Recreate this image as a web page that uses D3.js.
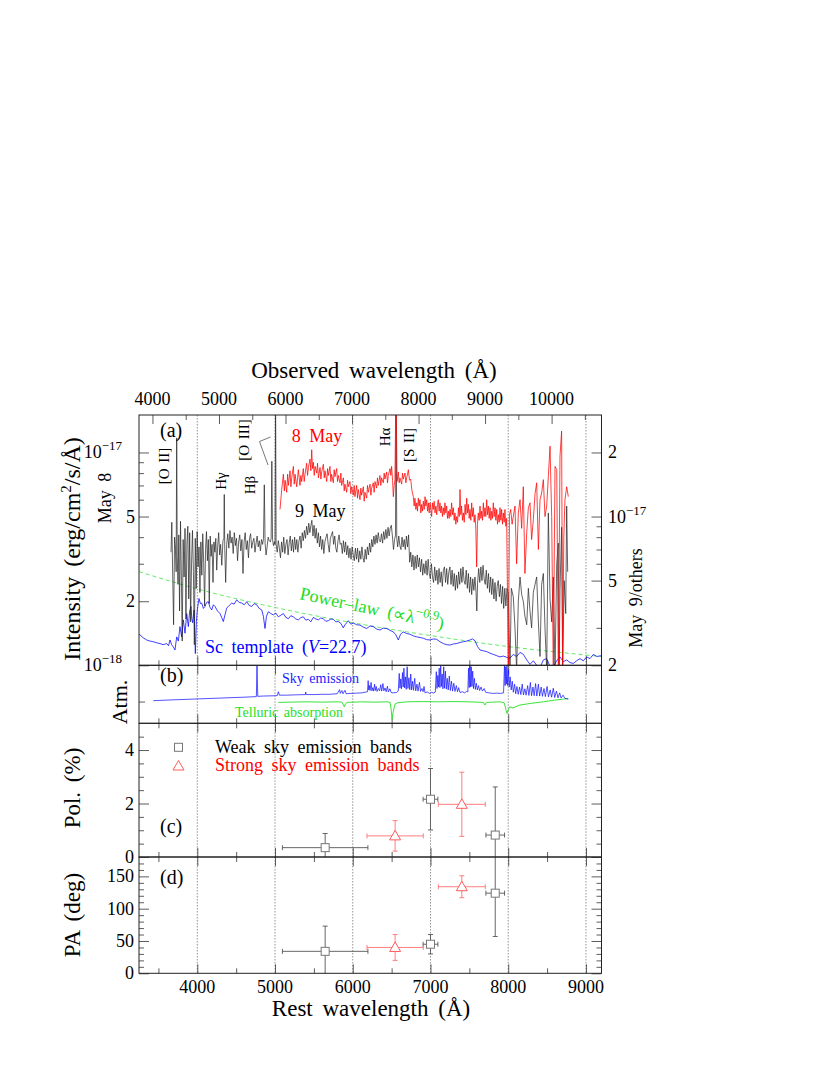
<!DOCTYPE html>
<html><head><meta charset="utf-8">
<script src="https://cdn.jsdelivr.net/npm/d3@7"></script>
<style>
body{margin:0;background:#fff}
svg{display:block}
text{font-family:"Liberation Serif","Times New Roman",serif}
</style>
</head><body>
<svg id="chart" width="830" height="1075"></svg>
<script>
// ---------------- DATA ----------------
const redshift = 0.1685;
const restDomain = [3250, 9200];
const restMajorTicks = [4000, 5000, 6000, 7000, 8000, 9000];
const restMinorTicks = [3500, 4500, 5500, 6500, 7500, 8500];
const obsMajorTicks = [4000, 5000, 6000, 7000, 8000, 9000, 10000];
const obsMinorTicks = [4500, 5500, 6500, 7500, 8500, 9500, 10500];

// panel (a) flux in units of 1e-18 erg/cm2/s/A
// May 8 on left axis, May 9 & others on right axis
const leftMajor = [1, 2, 5, 10];
const leftMinor = [3, 4, 6, 7, 8, 9];
const rightMajor = [2, 5, 10, 20];
const rightMinor = [3, 4, 6, 7, 8, 9];

const may8 = [[5064,5.4],[5086,6.7],[5107,7.9],[5120,6.6],[5130,7.4],[5150,6.5],[5162,7.9],[5172,7.0],[5193,8.2],[5204,6.9],[5215,7.6],[5236,8.6],[5247,7.1],[5258,7.9],[5279,6.9],[5290,7.6],[5300,8.3],[5321,7.0],[5332,7.8],[5343,7.3],[5364,8.4],[5375,7.3],[5386,7.9],[5407,8.9],[5418,7.8],[5430,8.5],[5450,9.3],[5461,8.2],[5472,10.3],[5482,8.4],[5493,9.0],[5504,7.8],[5515,8.6],[5536,8.0],[5547,8.9],[5558,7.6],[5579,8.5],[5590,7.5],[5600,8.1],[5622,8.8],[5633,7.6],[5643,8.2],[5665,7.3],[5676,8.4],[5686,7.8],[5707,8.6],[5718,7.3],[5728,7.9],[5750,7.2],[5761,8.3],[5771,7.7],[5793,8.4],[5804,7.3],[5814,7.8],[5836,7.2],[5847,8.0],[5857,7.0],[5879,7.6],[5890,6.6],[5900,7.1],[5922,6.5],[5933,7.4],[5943,6.9],[5964,7.3],[5975,6.4],[5986,6.9],[6007,6.3],[6018,7.0],[6028,6.2],[6050,7.0],[6061,6.1],[6071,6.7],[6093,6.0],[6104,6.8],[6114,6.3],[6136,6.9],[6147,5.9],[6157,6.5],[6179,6.1],[6190,7.0],[6200,6.5],[6222,7.1],[6233,6.3],[6243,6.8],[6264,7.2],[6275,6.5],[6286,7.3],[6307,6.8],[6318,7.6],[6328,7.0],[6350,7.8],[6361,7.0],[6371,7.6],[6393,7.2],[6404,8.0],[6414,7.5],[6436,8.1],[6447,7.2],[6457,7.8],[6479,8.4],[6490,7.8],[6500,8.6],[6512,7.4],[6522,6.2],[6533,7.0],[6543,7.45],[6556,22],[6570,7.3],[6586,8.1],[6597,7.2],[6607,7.6],[6629,7.1],[6640,8.0],[6650,7.5],[6672,8.0],[6683,7.2],[6693,7.6],[6705,7.9],[6715,8.3],[6730,7.4],[6745,7.5],[6762,6.6],[6779,6.2],[6790,5.6],[6800,6.1],[6812,5.4],[6823,5.8],[6833,5.3],[6843,6.1],[6854,5.6],[6865,6.0],[6876,5.2],[6886,5.7],[6897,5.3],[6908,5.9],[6919,5.4],[6930,6.2],[6940,5.6],[6951,6.0],[6962,5.3],[6972,5.8],[6983,5.2],[6994,5.8],[7005,5.4],[7015,5.0],[7025,5.8],[7036,5.4],[7047,5.9],[7058,5.2],[7069,5.6],[7080,5.1],[7090,5.7],[7100,6.0],[7111,5.3],[7122,5.8],[7133,5.2],[7143,5.6],[7154,5.0],[7165,5.5],[7176,5.1],[7186,5.8],[7197,5.2],[7208,5.6],[7219,4.9],[7230,5.3],[7240,4.9],[7251,5.4],[7262,5.0],[7272,5.8],[7283,5.1],[7294,5.5],[7305,4.8],[7315,5.2],[7326,4.6],[7337,5.0],[7348,4.7],[7360,5.5],[7370,5.0],[7380,6.7],[7390,5.1],[7400,5.6],[7411,4.8],[7423,5.2],[7434,4.7],[7445,5.7],[7456,5.1],[7466,6.1],[7477,5.2],[7487,5.7],[7498,4.9],[7508,5.4],[7519,4.8],[7530,5.8],[7540,5.0],[7551,5.5],[7562,4.7],[7573,5.1],[7583,4.4],[7594,2.9],[7604,4.6],[7615,5.2],[7626,4.8],[7637,5.6],[7648,4.9],[7658,5.3],[7669,4.8],[7680,5.8],[7690,5.0],[7701,5.5],[7712,5.0],[7723,6.0],[7734,5.1],[7745,5.6],[7755,4.9],[7766,5.5],[7777,4.8],[7787,5.3],[7798,4.9],[7808,5.8],[7819,5.0],[7830,5.5],[7841,4.8],[7852,5.4],[7862,4.6],[7873,5.1],[7884,4.7],[7894,5.5],[7905,4.8],[7915,5.4],[7926,4.6],[7937,5.2],[7948,4.7],[7958,5.4],[7969,4.5],[7980,4.9],[8001,0.9],[8016,5.1],[8032,5.4],[8050,4.6],[8065,5.0],[8087,5.6],[8108,3.0],[8130,5.2],[8152,6.0],[8173,4.4],[8194,6.9],[8215,2.7],[8238,4.2],[8259,5.5],[8280,5.8],[8301,3.9],[8323,4.83],[8345,6.4],[8366,7.2],[8388,3.5],[8409,6.0],[8430,6.45],[8452,7.45],[8473,5.0],[8495,5.6],[8516,7.7],[8538,10.7],[8559,5.0],[8580,0.9],[8602,8.6],[8624,8.3],[8645,0.9],[8666,9.6],[8687,12.6],[8700,1.0],[8715,4.0],[8730,6.0],[8752,6.9],[8773,6.2]];

const may9 = [[3662,6.8],[3672,9.4],[3684,5.2],[3695,3.1],[3708,8.0],[3720,7.0],[3728,5.5],[3735,23.4],[3742,6.5],[3752,4.8],[3762,8.2],[3772,3.6],[3784,9.5],[3796,5.0],[3806,2.6],[3818,7.8],[3830,5.2],[3842,8.8],[3854,3.3],[3866,7.4],[3878,9.0],[3890,4.1],[3902,8.4],[3914,3.2],[3926,6.0],[3938,8.6],[3950,5.5],[3962,2.5],[3974,7.9],[3986,4.6],[3998,8.5],[4010,5.8],[4022,7.2],[4034,4.4],[4046,7.6],[4058,5.3],[4070,8.3],[4082,6.1],[4094,3.8],[4106,7.0],[4118,8.5],[4130,6.2],[4142,7.8],[4154,3.9],[4166,8.1],[4178,6.5],[4190,7.4],[4202,4.9],[4214,7.6],[4226,6.8],[4238,7.9],[4250,5.6],[4262,7.2],[4275,8.4],[4288,6.6],[4300,7.4],[4315,5.9],[4330,7.7],[4342,7.9],[4347,12.7],[4353,7.2],[4365,4.9],[4378,7.4],[4392,8.3],[4406,7.1],[4420,8.6],[4434,7.5],[4448,8.0],[4462,6.7],[4476,8.4],[4490,7.3],[4504,7.9],[4518,6.2],[4532,7.6],[4546,8.2],[4560,6.9],[4574,7.8],[4588,5.4],[4602,7.6],[4616,8.4],[4630,7.0],[4644,7.7],[4658,6.4],[4672,7.9],[4686,8.3],[4700,7.1],[4714,7.6],[4728,7.9],[4742,6.8],[4756,7.5],[4770,8.1],[4784,7.2],[4798,7.7],[4812,6.9],[4826,7.8],[4840,7.4],[4852,7.9],[4862,14.1],[4872,7.5],[4885,6.6],[4898,7.2],[4912,8.0],[4925,7.7],[4940,7.6],[4950,7.9],[4959,18.2],[4968,7.8],[4980,7.3],[4992,7.6],[5000,7.4],[5007,40],[5014,7.4],[5028,6.8],[5042,7.7],[5056,7.1],[5070,6.4],[5084,7.6],[5098,6.8],[5112,8.0],[5126,6.7],[5140,7.4],[5154,7.8],[5168,6.6],[5182,7.5],[5196,8.1],[5210,6.9],[5224,7.8],[5238,6.8],[5252,8.0],[5266,7.0],[5280,7.8],[5294,6.8],[5308,7.7],[5322,8.1],[5336,7.1],[5350,8.4],[5364,7.7],[5378,8.6],[5392,7.9],[5406,9.0],[5420,8.2],[5434,9.3],[5448,8.4],[5462,9.1],[5474,9.6],[5488,8.1],[5502,9.1],[5516,7.9],[5530,8.8],[5544,7.5],[5558,8.4],[5572,7.2],[5586,8.1],[5600,7.0],[5614,7.8],[5628,6.7],[5642,7.6],[5656,8.0],[5670,8.3],[5684,7.4],[5698,6.8],[5712,7.9],[5726,8.2],[5740,8.5],[5754,7.4],[5768,8.1],[5782,7.1],[5796,6.8],[5810,7.7],[5824,8.2],[5838,7.4],[5852,7.5],[5866,6.7],[5880,7.7],[5894,6.8],[5908,7.6],[5922,6.6],[5936,7.3],[5950,6.4],[5964,7.1],[5978,6.3],[5992,7.2],[6006,6.6],[6020,6.2],[6034,7.1],[6048,6.3],[6062,7.1],[6076,6.1],[6090,6.9],[6104,6.3],[6118,7.2],[6132,6.4],[6146,6.1],[6160,7.0],[6174,6.3],[6188,7.2],[6202,6.6],[6216,7.5],[6230,6.8],[6244,7.8],[6258,7.2],[6272,8.1],[6286,7.4],[6300,8.2],[6314,7.5],[6328,8.4],[6342,7.7],[6356,7.6],[6370,8.3],[6384,7.5],[6398,8.5],[6412,7.8],[6426,8.7],[6440,7.9],[6454,8.9],[6468,8.1],[6482,8.8],[6496,9.1],[6510,8.1],[6524,7.0],[6538,7.8],[6550,8.2],[6557,45],[6566,7.9],[6578,7.2],[6592,8.1],[6606,7.3],[6620,7.0],[6634,8.0],[6648,7.2],[6662,7.8],[6676,7.0],[6690,8.1],[6704,7.2],[6718,8.2],[6732,6.1],[6746,6.8],[6760,5.8],[6774,6.6],[6788,5.6],[6802,6.5],[6816,5.7],[6830,6.6],[6844,5.8],[6858,6.4],[6872,5.5],[6886,6.3],[6900,5.3],[6914,6.0],[6928,5.4],[6942,6.2],[6956,5.3],[6970,6.3],[6984,5.4],[6998,5.1],[7012,6.0],[7026,5.2],[7040,4.9],[7054,5.8],[7068,5.0],[7082,5.6],[7096,4.8],[7110,5.7],[7124,4.9],[7138,5.5],[7152,4.7],[7166,5.6],[7180,5.8],[7194,4.9],[7208,5.7],[7222,4.8],[7236,5.5],[7250,5.8],[7264,4.8],[7278,5.6],[7292,4.7],[7306,5.4],[7320,4.5],[7334,5.3],[7348,4.6],[7362,5.5],[7376,4.8],[7390,5.7],[7404,4.9],[7418,5.8],[7432,5.0],[7446,4.8],[7460,5.6],[7474,4.6],[7488,5.4],[7502,4.4],[7516,5.2],[7530,4.3],[7544,5.1],[7558,4.5],[7572,5.2],[7586,4.4],[7596,3.6],[7606,4.9],[7620,5.7],[7634,4.9],[7648,5.8],[7662,5.0],[7676,5.9],[7690,5.1],[7704,4.8],[7718,5.6],[7732,4.6],[7746,5.4],[7760,4.4],[7774,5.2],[7788,4.3],[7802,5.1],[7816,4.1],[7830,4.9],[7844,4.0],[7858,4.7],[7872,5.0],[7886,4.2],[7900,4.8],[7914,3.9],[7928,4.7],[7942,3.7],[7956,4.6],[7970,3.8],[7984,4.6],[8001,4.4],[8023,1.9],[8040,4.6],[8065,4.2],[8087,3.0],[8108,1.9],[8130,4.0],[8152,5.2],[8173,4.3],[8194,4.0],[8215,3.4],[8238,3.1],[8259,4.6],[8280,3.6],[8301,3.0],[8323,4.4],[8345,4.8],[8366,5.2],[8388,3.2],[8409,2.2],[8430,4.8],[8452,5.4],[8473,3.0],[8495,1.9],[8516,10.4],[8538,4.1],[8559,3.2],[8580,5.2],[8602,1.9],[8624,6.0],[8644,7.5],[8655,1.9],[8666,4.5],[8687,8.9],[8700,1.9],[8720,5.0],[8740,3.5],[8752,11.2],[8765,5.5]];

const scTemplate = [[3250,2.8],[3263,2.78],[3300,2.7],[3349,2.63],[3390,2.6],[3434,2.58],[3480,2.55],[3520,2.53],[3560,2.5],[3606,2.53],[3630,2.47],[3649,2.63],[3670,2.5],[3691,2.44],[3713,2.36],[3735,2.72],[3756,2.6],[3777,3.04],[3799,2.72],[3820,3.27],[3842,2.83],[3864,3.5],[3885,3.04],[3902,3.6],[3919,3.78],[3930,3.3],[3941,3.17],[3958,3.64],[3967,2.9],[3975,2.27],[3988,3.2],[4000,3.64],[4022,4.12],[4040,3.9],[4057,3.92],[4078,3.7],[4099,3.78],[4120,3.95],[4142,3.98],[4163,3.75],[4185,3.64],[4207,3.85],[4228,3.78],[4260,3.6],[4292,3.5],[4315,3.35],[4335,3.21],[4356,3.45],[4378,3.71],[4410,3.82],[4443,3.92],[4475,3.88],[4507,4.06],[4540,3.95],[4571,3.92],[4604,3.85],[4636,3.98],[4668,3.82],[4700,3.78],[4732,3.9],[4764,3.85],[4796,3.7],[4829,3.64],[4850,3.4],[4871,2.98],[4890,3.4],[4914,3.57],[4946,3.5],[4978,3.45],[5010,3.52],[5042,3.38],[5075,3.44],[5107,3.5],[5139,3.36],[5171,3.31],[5203,3.42],[5235,3.38],[5268,3.3],[5300,3.27],[5332,3.35],[5364,3.38],[5396,3.26],[5428,3.29],[5460,3.2],[5493,3.36],[5525,3.3],[5557,3.27],[5589,3.34],[5621,3.31],[5653,3.22],[5685,3.24],[5718,3.3],[5750,3.29],[5782,3.2],[5814,3.21],[5846,3.15],[5878,3.0],[5900,3.1],[5943,3.24],[5975,3.12],[6007,3.16],[6050,3.1],[6093,3.09],[6136,3.02],[6179,2.98],[6222,3.06],[6264,3.04],[6307,2.96],[6350,2.93],[6393,2.99],[6436,2.98],[6479,2.92],[6522,2.87],[6555,2.78],[6586,2.63],[6615,2.8],[6650,2.87],[6693,2.82],[6736,2.8],[6780,2.75],[6823,2.72],[6866,2.7],[6908,2.68],[6950,2.64],[6994,2.63],[7036,2.66],[7080,2.65],[7122,2.58],[7165,2.53],[7208,2.5],[7251,2.49],[7294,2.52],[7337,2.53],[7380,2.56],[7423,2.58],[7466,2.6],[7508,2.63],[7540,2.66],[7572,2.61],[7605,2.45],[7637,2.36],[7680,2.34],[7723,2.32],[7766,2.28],[7808,2.25],[7851,2.22],[7894,2.19],[7937,2.21],[7980,2.18],[8022,2.16],[8065,2.25],[8108,2.2],[8152,2.3],[8195,2.25],[8238,2.12],[8280,2.02],[8323,2.1],[8366,2.0],[8409,1.95],[8452,2.12],[8495,2.15],[8537,1.98],[8580,1.97],[8623,2.1],[8666,2.19],[8709,2.08],[8752,2.12],[8795,2.06],[8837,2.04],[8880,2.1],[8923,2.15],[8966,2.1],[9009,2.19],[9052,2.15],[9095,2.25],[9140,2.2],[9200,2.22]];

const powerLaw = [[3250,5.51],[4000,4.57],[5000,3.74],[6000,3.17],[7000,2.76],[8000,2.45],[9200,2.2]];

// panel (b) arbitrary units
const skyEmission = [[3434,0.03],[3700,0.06],[4000,0.09],[4300,0.12],[4600,0.15],[4760,0.17],[4768,1.23],[4778,0.18],[4850,0.19],[5000,0.2],[5030,0.21],[5043,0.34],[5056,0.22],[5150,0.22],[5250,0.23],[5390,0.24],[5395,0.33],[5400,0.24],[5500,0.24],[5600,0.25],[5700,0.25],[5800,0.27],[5830,0.41],[5840,0.28],[5860,0.38],[5875,0.27],[5900,0.39],[5915,0.27],[5964,0.28],[6050,0.29],[6120,0.3],[6190,0.34],[6198,0.72],[6206,0.4],[6214,0.55],[6222,0.38],[6236,0.66],[6246,0.37],[6258,0.48],[6268,0.36],[6281,0.6],[6290,0.38],[6302,0.52],[6312,0.35],[6330,0.45],[6345,0.37],[6360,0.58],[6372,0.36],[6388,0.62],[6400,0.37],[6415,0.47],[6430,0.34],[6446,0.53],[6458,0.33],[6478,0.44],[6494,0.31],[6520,0.3],[6560,0.31],[6585,0.36],[6598,0.97],[6607,0.46],[6617,0.78],[6627,0.44],[6640,1.0],[6649,0.5],[6658,1.15],[6667,0.47],[6678,0.85],[6688,0.42],[6700,1.2],[6710,0.45],[6722,0.82],[6734,0.41],[6746,0.95],[6757,0.4],[6770,0.7],[6782,0.39],[6797,0.8],[6810,0.37],[6826,0.6],[6840,0.36],[6858,0.66],[6872,0.35],[6890,0.45],[6905,0.34],[6917,0.52],[6930,0.3],[6960,0.33],[6985,0.28],[7015,0.32],[7040,0.29],[7062,0.33],[7075,1.03],[7084,0.45],[7094,0.9],[7103,0.5],[7112,1.15],[7121,0.48],[7131,1.26],[7140,0.52],[7150,0.95],[7160,0.44],[7170,1.2],[7180,0.46],[7192,1.05],[7203,0.43],[7215,0.8],[7228,0.4],[7242,0.88],[7255,0.38],[7270,0.7],[7284,0.36],[7300,0.63],[7315,0.35],[7332,0.55],[7348,0.34],[7362,0.48],[7380,0.31],[7410,0.34],[7440,0.3],[7465,0.35],[7480,0.33],[7490,1.15],[7498,0.48],[7507,1.26],[7515,0.5],[7524,1.2],[7533,0.52],[7543,1.05],[7553,0.45],[7565,0.8],[7577,0.42],[7590,0.63],[7603,0.4],[7618,0.55],[7632,0.38],[7650,0.5],[7668,0.36],[7690,0.45],[7710,0.32],[7750,0.3],[7800,0.28],[7850,0.29],[7900,0.28],[7940,0.3],[7952,1.26],[7960,0.55],[7968,1.2],[7976,0.6],[7984,1.25],[7993,0.55],[8003,1.1],[8013,0.5],[8025,0.85],[8038,0.4],[8052,0.7],[8066,0.32],[8082,0.6],[8096,0.27],[8112,0.52],[8128,0.25],[8146,0.5],[8162,0.24],[8180,0.6],[8196,0.23],[8214,0.44],[8230,0.22],[8250,0.55],[8266,0.21],[8285,0.66],[8300,0.2],[8318,0.5],[8334,0.2],[8352,0.62],[8368,0.19],[8388,0.6],[8404,0.19],[8424,0.5],[8440,0.18],[8460,0.45],[8478,0.17],[8500,0.52],[8518,0.16],[8540,0.4],[8558,0.15],[8580,0.46],[8598,0.14],[8620,0.36],[8640,0.13],[8662,0.3],[8680,0.12],[8705,0.22],[8730,0.11],[8773,0.08]];

const telluric = [[5043,-0.03],[5200,-0.02],[5400,-0.01],[5600,-0.02],[5800,-0.01],[5860,-0.02],[5880,-0.12],[5891,-0.18],[5905,-0.08],[5930,-0.03],[6100,-0.01],[6300,-0.02],[6450,-0.01],[6480,-0.03],[6495,-0.3],[6505,-0.61],[6520,-0.35],[6545,-0.08],[6580,-0.04],[6700,-0.01],[6900,0.0],[7100,-0.01],[7300,0.0],[7500,-0.01],[7680,-0.03],[7700,-0.12],[7720,-0.03],[7900,-0.01],[7950,-0.05],[7972,-0.3],[7985,-0.41],[7998,-0.29],[8020,-0.18],[8060,-0.22],[8150,-0.12],[8300,-0.06],[8450,-0.01],[8600,0.05],[8700,0.08],[8773,0.11]];

// panels (c),(d): polarimetry
const weakWave = [5645, 7000, 7833];
const weakWaveErr = [550, 95, 120];
const weakPol = [0.35, 2.16, 0.82];
const weakPolErr = [0.53, 1.15, 1.8];
const weakPA = [34, 45, 124];
const weakPAErr = [39, 15, 67];
const strongWave = [6545, 7403];
const strongWaveErr = [362, 302];
const strongPol = [0.79, 1.97];
const strongPolErr = [0.57, 1.2];
const strongPA = [40, 134];
const strongPAErr = [20, 17];

const polMajor = [0, 2, 4];
const polMinor = [0.5, 1, 1.5, 2.5, 3, 3.5, 4.5];
const paMajor = [0, 50, 100, 150];
const paMinor = [10, 20, 30, 40, 60, 70, 80, 90, 110, 120, 130, 140, 160, 170];

// ---------------- LAYOUT ----------------
const X0 = 139, X1 = 601.5;
const panels = {
  a: {top: 415, bot: 665.3},
  b: {top: 665.3, bot: 723.3},
  c: {top: 723.3, bot: 857},
  d: {top: 857, bot: 973.3}
};
const x = d3.scaleLinear().domain(restDomain).range([X0, X1]);
const xObs = d3.scaleLinear().domain(restDomain.map(v => v * (1 + redshift))).range([X0, X1]);
const yL = d3.scaleLog().domain([1, 15]).range([panels.a.bot, panels.a.top]);
const yR = d3.scaleLog().domain([2, 30]).range([panels.a.bot, panels.a.top]);
const yB = d3.scaleLinear().domain([-0.75, 1.25]).range([panels.b.bot, panels.b.top]);
const yC = d3.scaleLinear().domain([0, 5]).range([panels.c.bot, panels.c.top]);
const yD = d3.scaleLinear().domain([0, 180]).range([panels.d.bot, panels.d.top]);

const svg = d3.select("#chart");
svg.append("rect").attr("width", 830).attr("height", 1075).attr("fill", "#fff");
const defs = svg.append("defs");
Object.entries(panels).forEach(([k, p]) => {
  defs.append("clipPath").attr("id", "clip-" + k).append("rect")
    .attr("x", X0).attr("y", p.top).attr("width", X1 - X0).attr("height", p.bot - p.top);
});

const TICK = "#333";
function noDomain(g) { g.select(".domain").remove(); g.selectAll("line").attr("stroke", TICK).attr("stroke-width", 0.8); }

// grid lines (dotted) at rest-frame thousands
Object.values(panels).forEach(p => {
  svg.append("g").selectAll("line").data(restMajorTicks).join("line")
    .attr("x1", d => x(d)).attr("x2", d => x(d))
    .attr("y1", p.top).attr("y2", p.bot)
    .attr("stroke", "#666").attr("stroke-width", 0.7).attr("stroke-dasharray", "1.5,1.5");
});

// x ticks on every panel edge
function xTicks(scale, yPos, up, major, minor) {
  const mk = up ? d3.axisTop : d3.axisBottom;
  svg.append("g").attr("transform", `translate(0,${yPos})`)
    .call(mk(scale).tickValues(major).tickSize(9).tickFormat("")).call(noDomain);
  svg.append("g").attr("transform", `translate(0,${yPos})`)
    .call(mk(scale).tickValues(minor).tickSize(5).tickFormat("")).call(noDomain);
}
xTicks(xObs, panels.a.top, false, obsMajorTicks, obsMinorTicks);
xTicks(x, panels.a.bot, true, restMajorTicks, restMinorTicks);
["b", "c", "d"].forEach(k => {
  xTicks(x, panels[k].top, false, restMajorTicks, restMinorTicks);
  xTicks(x, panels[k].bot, true, restMajorTicks, restMinorTicks);
});

// y ticks
function yTicks(scale, xPos, left, vals, size) {
  const mk = left ? d3.axisRight : d3.axisLeft;
  svg.append("g").attr("transform", `translate(${xPos},0)`)
    .call(mk(scale).tickValues(vals).tickSize(size).tickFormat("")).call(noDomain);
}
yTicks(yL, X0, true, leftMajor, 10); yTicks(yL, X0, true, leftMinor, 5);
yTicks(yR, X1, false, rightMajor, 10); yTicks(yR, X1, false, rightMinor, 5);
yTicks(yB, X0, true, [0], 6); yTicks(yB, X1, false, [0], 6);
yTicks(yC, X0, true, polMajor, 10); yTicks(yC, X0, true, polMinor, 5);
yTicks(yC, X1, false, polMajor, 10); yTicks(yC, X1, false, polMinor, 5);
yTicks(yD, X0, true, paMajor, 10); yTicks(yD, X0, true, paMinor, 5);
yTicks(yD, X1, false, paMajor, 10); yTicks(yD, X1, false, paMinor, 5);

// ---------------- PANEL (a) ----------------
const gA = svg.append("g").attr("clip-path", "url(#clip-a)");
const lineR = d3.line().x(d => x(d[0])).y(d => yR(d[1]));
const lineL = d3.line().x(d => x(d[0])).y(d => yL(d[1]));
gA.append("path").attr("d", d3.line().x(d => x(d[0])).y(d => yR(d[1])).curve(d3.curveMonotoneX)(powerLaw))
  .attr("fill", "none").attr("stroke", "#55e855").attr("stroke-width", 0.9).attr("stroke-dasharray", "4,3");
gA.append("path").attr("d", lineR(scTemplate)).attr("fill", "none").attr("stroke", "#0000ff").attr("stroke-width", 0.75);
gA.append("path").attr("d", lineR(may9)).attr("fill", "none").attr("stroke", "#222").attr("stroke-width", 0.7);
gA.append("path").attr("d", lineL(may8)).attr("fill", "none").attr("stroke", "#ff0000").attr("stroke-width", 0.75);

// ---------------- PANEL (b) ----------------
const gB = svg.append("g").attr("clip-path", "url(#clip-b)");
const lineB = d3.line().x(d => x(d[0])).y(d => yB(d[1]));
gB.append("path").attr("d", lineB(telluric)).attr("fill", "none").attr("stroke", "#22e022").attr("stroke-width", 0.9);
gB.append("path").attr("d", lineB(skyEmission)).attr("fill", "none").attr("stroke", "#1a1aff").attr("stroke-width", 0.75);

// ---------------- PANELS (c),(d) ----------------
function errPoints(g, ys, waves, wErr, vals, vErr, color, marker) {
  const yDom = ys.domain();
  waves.forEach((w, i) => {
    const cx = x(w), cy = ys(vals[i]);
    const xl = x(w - wErr[i]), xr = x(w + wErr[i]);
    const yt = ys(Math.min(vals[i] + vErr[i], yDom[1] * 1.2)), yb = ys(Math.max(vals[i] - vErr[i], yDom[0] - 1));
    const s = g.append("g").attr("stroke", color).attr("stroke-width", 0.9).attr("fill", "none");
    s.append("line").attr("x1", xl).attr("x2", xr).attr("y1", cy).attr("y2", cy);
    s.append("line").attr("x1", cx).attr("x2", cx).attr("y1", yt).attr("y2", yb);
    s.append("line").attr("x1", xl).attr("x2", xl).attr("y1", cy - 2.5).attr("y2", cy + 2.5);
    s.append("line").attr("x1", xr).attr("x2", xr).attr("y1", cy - 2.5).attr("y2", cy + 2.5);
    s.append("line").attr("x1", cx - 2.5).attr("x2", cx + 2.5).attr("y1", yt).attr("y2", yt);
    s.append("line").attr("x1", cx - 2.5).attr("x2", cx + 2.5).attr("y1", yb).attr("y2", yb);
    drawMarker(g, marker, cx, cy, color);
  });
}
function drawMarker(g, marker, cx, cy, color) {
  if (marker === "square") {
    g.append("rect").attr("x", cx - 4).attr("y", cy - 4).attr("width", 8).attr("height", 8)
      .attr("fill", "#fff").attr("stroke", "#777").attr("stroke-width", 1);
  } else {
    g.append("path").attr("d", `M${cx},${cy - 5.5}L${cx + 5.5},${cy + 4}L${cx - 5.5},${cy + 4}Z`)
      .attr("fill", "#fff").attr("stroke", "#ff5c5c").attr("stroke-width", 1);
  }
}
const gC = svg.append("g").attr("clip-path", "url(#clip-c)");
errPoints(gC, yC, weakWave, weakWaveErr, weakPol, weakPolErr, "#555", "square");
errPoints(gC, yC, strongWave, strongWaveErr, strongPol, strongPolErr, "#ff7070", "triangle");
const gD = svg.append("g").attr("clip-path", "url(#clip-d)");
errPoints(gD, yD, weakWave, weakWaveErr, weakPA, weakPAErr, "#555", "square");
errPoints(gD, yD, strongWave, strongWaveErr, strongPA, strongPAErr, "#ff7070", "triangle");

// frames
Object.values(panels).forEach(p => {
  svg.append("rect").attr("x", X0).attr("y", p.top).attr("width", X1 - X0).attr("height", p.bot - p.top)
    .attr("fill", "none").attr("stroke", "#222").attr("stroke-width", 1);
});

// ---------------- TEXT ----------------
function txt(xp, yp, s, size, opts = {}) {
  const t = svg.append("text").attr("x", xp).attr("y", yp).attr("font-size", size)
    .attr("fill", opts.fill || "#000").attr("text-anchor", opts.anchor || "start");
  if (opts.rot) t.attr("transform", `rotate(${opts.rot},${xp},${yp})`);
  if (opts.ws) t.attr("word-spacing", opts.ws);
  if (opts.italic) t.attr("font-style", "italic");
  t.text(s);
  return t;
}
// tick labels
restMajorTicks.forEach(v => txt(x(v), 993, v, 18, {anchor: "middle"}));
obsMajorTicks.forEach(v => txt(xObs(v), 404.5, v, 18, {anchor: "middle"}));
[[1, "10", "−18"], [2, "2"], [5, "5"], [10, "10", "−17"]].forEach(([v, a, b]) => {
  const t = txt(b ? 122 : 135, yL(v) + 6, "", 18, {anchor: "end"});
  t.append("tspan").text(a);
  if (b) { t.append("tspan").attr("dy", -8).attr("font-size", 13).text(b); }
});
[[2, "2"], [5, "5"], [10, "10", "−17"], [20, "2"]].forEach(([v, a, b]) => {
  const t = txt(608, yR(v) + 6, "", 18);
  t.append("tspan").text(a);
  if (b) { t.append("tspan").attr("dy", -8).attr("font-size", 13).text(b); }
});
polMajor.forEach(v => txt(134, yC(v) + 6, v, 18, {anchor: "end"}));
paMajor.forEach(v => txt(134, yD(v) + 6, v, 18, {anchor: "end"}));

// axis titles
txt(374, 378, "Observed wavelength (Å)", 23, {anchor: "middle", ws: 4});
txt(371, 1016, "Rest wavelength (Å)", 23, {anchor: "middle", ws: 4});
{
  const t = txt(80, 549, "", 24, {anchor: "middle", rot: -90, ws: 4});
  t.append("tspan").text("Intensity (erg/cm");
  t.append("tspan").attr("dy", -9).attr("font-size", 15).text("2");
  t.append("tspan").attr("dy", 9).text("/s/Å)");
}
txt(111, 498, "May 8", 18, {anchor: "middle", rot: -90, ws: 4});
txt(642, 598, "May 9/others", 18, {anchor: "middle", rot: -90, ws: 4});
txt(127, 702, "Atm.", 22, {anchor: "middle", rot: -90});
txt(80, 788, "Pol. (%)", 23, {anchor: "middle", rot: -90, ws: 4});
txt(80, 915, "PA (deg)", 23, {anchor: "middle", rot: -90, ws: 4});

// panel letters
txt(160, 437, "(a)", 20);
txt(160, 682, "(b)", 20);
txt(160, 833, "(c)", 20);
txt(160, 884, "(d)", 20);

// panel a annotations
txt(291.7, 441.7, "8 May", 18, {fill: "#ff0000", ws: 4});
txt(295, 517, "9 May", 18, {ws: 4});
txt(169, 466, "[O II]", 15, {anchor: "middle", rot: -90, ws: 2});
txt(226, 481, "Hγ", 15, {anchor: "middle", rot: -90});
txt(255, 485, "Hβ", 15, {anchor: "middle", rot: -90});
txt(249, 440, "[O III]", 15, {anchor: "middle", rot: -90, ws: 2});
txt(390, 437, "Hα", 15, {anchor: "middle", rot: -90});
txt(413.5, 445, "[S II]", 15, {anchor: "middle", rot: -90, ws: 2});
svg.append("path").attr("d", "M270.5,437L259.5,441.5L268,465").attr("fill", "none").attr("stroke", "#555").attr("stroke-width", 0.8);
{
  const t = txt(299, 599, "", 18, {fill: "#1edc1e", rot: 12, ws: 4});
  t.append("tspan").text("Power–law (∝λ");
  t.append("tspan").attr("dy", -8).attr("font-size", 13).text("−0.9");
  t.append("tspan").attr("dy", 8).text(")");
}
{
  const t = txt(205, 653, "", 18, {fill: "#0000ff", ws: 4});
  t.append("tspan").text("Sc template (");
  t.append("tspan").attr("font-style", "italic").text("V");
  t.append("tspan").text("=22.7)");
}
// panel b annotations
txt(282, 683, "Sky emission", 14, {fill: "#1a1aff", ws: 2});
txt(235, 716.5, "Telluric absorption", 14, {fill: "#1ee01e", ws: 2});

// legend panel c
drawMarker(svg, "square", 178.5, 747.3, "#777");
drawMarker(svg, "triangle", 178.5, 766, "#ff5c5c");
txt(215, 753, "Weak sky emission bands", 18, {ws: 4});
txt(215, 771, "Strong sky emission bands", 18, {fill: "#ff0000", ws: 4});
</script>
</body></html>
